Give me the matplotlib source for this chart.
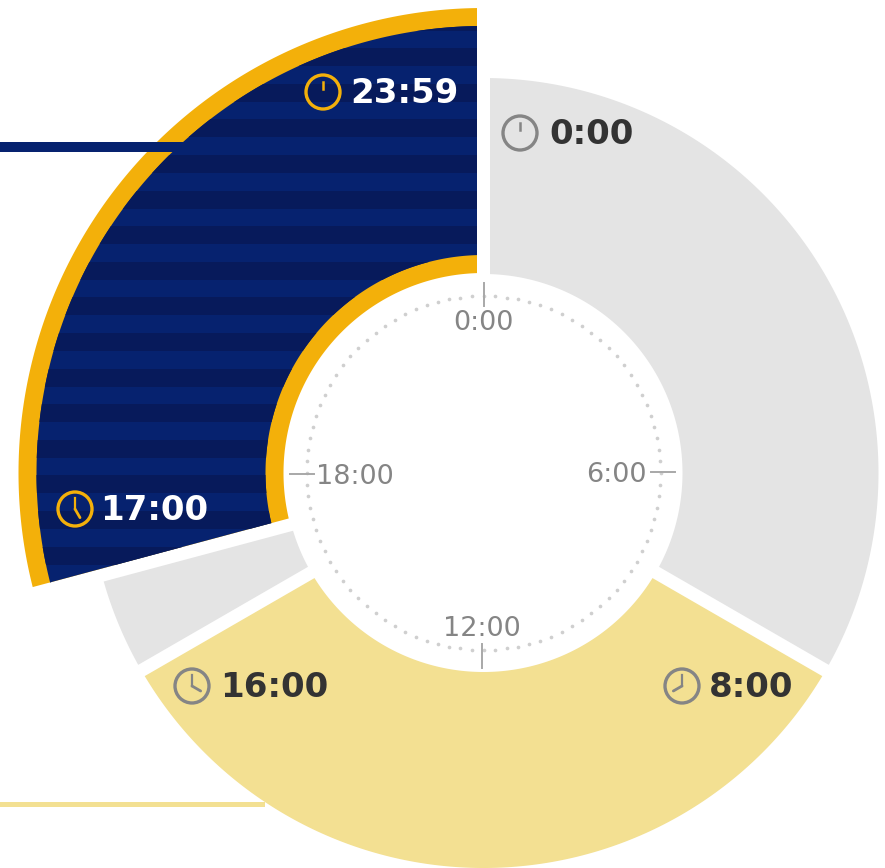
import numpy as np
import matplotlib.pyplot as plt
from matplotlib.patches import Polygon, Circle, Rectangle

# hours on the 24h dial, clockwise from the top
seg_start = [0, 8, 16, 17]
seg_end = [8, 16, 17, 24]
seg_colors = ["#e4e4e4", "#f3e092", "#e4e4e4", "#f3b00a"]

dial_hours = [0, 6, 12, 18]
dial_labels = ["0:00", "6:00", "12:00", "18:00"]

clock_hours = [0, 8, 16, 17, 0]
clock_labels = ["0:00", "8:00", "16:00", "17:00", "23:59"]

NAVY = "#06226f"
NAVY_DARK = "#071a5b"
GOLD = "#f3b00a"
GREY = "#858585"
CX, CY = 483.5, 473
GAP = 6.5


def sector(h0, h1, r0, r1, n=160):
    # ring sector with edges running parallel to the radius, so gaps stay even
    a0 = np.radians(h0 * 15)
    a1 = np.radians(h1 * 15)
    t_out = np.linspace(a0 + np.arcsin(GAP / r1), a1 - np.arcsin(GAP / r1), n)
    t_in = np.linspace(a1 - np.arcsin(GAP / r0), a0 + np.arcsin(GAP / r0), n)
    r = np.r_[np.full(n, r1), np.full(n, r0)]
    t = np.r_[t_out, t_in]
    return np.c_[CX + r * np.sin(t), CY - r * np.cos(t)]


def clock_icon(ax, x, y, hour, color):
    ax.add_patch(Circle((x, y), 17, fc="none", ec=color, lw=2.4, zorder=6))
    if hour % 12 == 0:
        # midnight only shows a short tick
        ax.plot([x, x], [y - 3, y - 10], color=color, lw=1.8, zorder=6)
        return
    t = np.radians(hour * 30)
    ax.plot([x, x], [y, y - 11], color=color, lw=1.6, zorder=6)
    ax.plot([x, x + 10 * np.sin(t)], [y, y - 10 * np.cos(t)],
            color=color, lw=2.0, zorder=6, solid_capstyle="round")


fig = plt.figure(figsize=(8.85, 8.68), dpi=100)
ax = fig.add_axes([0, 0, 1, 1])
ax.set_xlim(0, 885)
ax.set_ylim(868, 0)
ax.axis("off")

# leader lines
ax.add_patch(Rectangle((0, 802), 265, 5, fc="#f3e092", ec="none", zorder=1))

for i in range(3):
    ax.add_patch(Polygon(sector(seg_start[i], seg_end[i], 199, 395), fc=seg_colors[i], ec="none", zorder=2))

# highlighted sector: gold band, then striped navy inside it
ax.add_patch(Polygon(sector(seg_start[3], seg_end[3], 200, 465), fc=GOLD, ec="none", zorder=2))
navy = Polygon(sector(seg_start[3], seg_end[3], 218, 447), fc=NAVY, ec="none", zorder=3)
ax.add_patch(navy)
for y in np.arange(12.5, 600, 35.6):
    stripe = Rectangle((0, y), 500, 18, fc=NAVY_DARK, ec="none", zorder=3)
    ax.add_patch(stripe)
    stripe.set_clip_path(navy)
ax.add_patch(Rectangle((0, 142), 185, 9.5, fc=NAVY, ec="none", zorder=4))

# dial
dots = np.radians(np.arange(0, 360, 3.75))
ax.scatter(CX + 177 * np.sin(dots), CY - 177 * np.cos(dots), s=7, c="#cfcfcf", lw=0, zorder=4)

label_x = [483, 616, 482, 355]
label_y = [322.5, 474.5, 629.5, 476.5]
for h, lab, x, y in zip(dial_hours, dial_labels, label_x, label_y):
    ax.text(x, y, lab, color=GREY, fontsize=19.5, ha="center", va="center", zorder=5)
ax.plot([484, 484], [283, 306], color="#a8a8a8", lw=1.4, zorder=5)
ax.plot([651, 675], [472, 472], color="#a8a8a8", lw=1.4, zorder=5)
ax.plot([482, 482], [644, 668], color="#a8a8a8", lw=1.4, zorder=5)
ax.plot([290, 314], [474, 474], color="#a8a8a8", lw=1.4, zorder=5)

# time stamps at sector edges
icon_x = [520, 682, 192, 75, 323]
icon_y = [133, 686, 686, 509, 92]
text_x = [549, 709, 220, 100, 350]
icon_colors = [GREY, GREY, GREY, GOLD, GOLD]
text_colors = ["#333333", "#333333", "#333333", "white", "white"]
for i in range(5):
    clock_icon(ax, icon_x[i], icon_y[i], clock_hours[i], icon_colors[i])
    ax.text(text_x[i], icon_y[i] + 1.5, clock_labels[i], color=text_colors[i], fontsize=24.5,
            fontweight="bold", ha="left", va="center", zorder=6)

fig.savefig("out.png", dpi=100)
